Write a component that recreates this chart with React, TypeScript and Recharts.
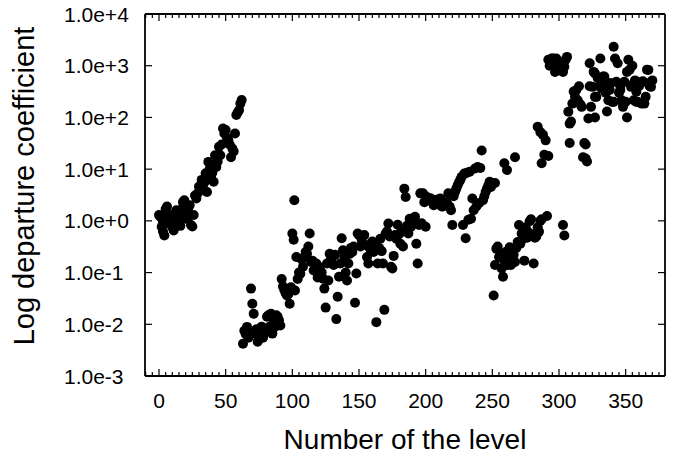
import React from 'react';
import { ScatterChart, Scatter, XAxis, YAxis } from 'recharts';

// [level number, departure coefficient], one cluster at a time
const firstLevels: [number, number][] = [
    [0, 1.3], [1, 1.2], [2, 0.77], [3, 0.62], [3, 0.95], [4, 0.52], [5, 1.7], [6, 1.9], [7, 0.9], [7, 1.3],
    [8, 1.0], [9, 1.1], [10, 0.75], [11, 0.65], [12, 0.9], [12, 1.4], [13, 1.6], [14, 1.2], [15, 1.5],
    [16, 1.15], [16, 0.8], [17, 1.7], [18, 2.3], [19, 2.5], [20, 1.4], [20, 1.1], [21, 1.3], [22, 1.8],
    [22, 1.2], [23, 2.0], [24, 0.83], [25, 0.78], [26, 1.3], [27, 3.1], [28, 2.7], [29, 3.4], [30, 4.6],
    [31, 3.9], [32, 6.2], [33, 4.9], [34, 5.5], [35, 8.3], [36, 3.6], [37, 13.8], [38, 10], [39, 7.1],
    [40, 8.5], [41, 5.7], [42, 18.6], [43, 11], [44, 14], [45, 27], [46, 18.6], [47, 30], [48, 61],
    [49, 49], [50, 57], [51, 40], [52, 36], [53, 30], [54, 17], [55, 25], [56, 22], [57, 49], [58, 111],
    [59, 125], [60, 138], [61, 185], [62, 218],
];

const lowCluster: [number, number][] = [
    [63, 0.0042], [64, 0.0075], [65, 0.0065], [66, 0.0089], [67, 0.0055], [68, 0.0066], [69, 0.049],
    [70, 0.025], [71, 0.016], [72, 0.0066], [73, 0.008], [74, 0.0046], [75, 0.007], [76, 0.0076],
    [77, 0.009], [78, 0.0055], [79, 0.0066], [80, 0.008], [81, 0.014], [82, 0.015], [83, 0.009],
    [84, 0.016], [85, 0.0066], [86, 0.012], [87, 0.009], [88, 0.015], [89, 0.014], [90, 0.012],
    [91, 0.0095], [92, 0.075], [93, 0.054], [94, 0.046], [95, 0.04], [96, 0.036], [97, 0.038],
    [98, 0.025], [99, 0.052], [100, 0.57], [101, 0.43], [101.5, 2.5], [102, 0.045],
];

const middleBand: [number, number][] = [
    [103, 0.2], [104, 0.075], [105, 0.1], [106, 0.095], [107, 0.18], [108, 0.13], [109, 0.2], [110, 0.25],
    [111, 0.23], [112, 0.32], [113, 0.57], [114, 0.16], [115, 0.17], [116, 0.11], [117, 0.12], [118, 0.15],
    [119, 0.08], [120, 0.13], [121, 0.11], [122, 0.1], [123, 0.076], [124, 0.049], [125, 0.021], [126, 0.15],
    [127, 0.07], [128, 0.23], [129, 0.18], [130, 0.2], [131, 0.14], [132, 0.22], [133, 0.0126], [134, 0.034],
    [135, 0.083], [136, 0.15], [137, 0.46], [138, 0.27], [139, 0.2], [140, 0.1], [141, 0.07], [142, 0.15],
    [143, 0.23], [144, 0.3], [145, 0.25], [146, 0.32], [147, 0.026], [148, 0.096], [149, 0.57], [150, 0.53],
    [151, 0.32], [152, 0.43], [153, 0.35], [154, 0.53], [155, 0.34], [156, 0.2], [157, 0.15], [158, 0.3],
    [159, 0.28], [160, 0.4], [161, 0.25], [162, 0.36], [163, 0.011], [164, 0.15], [165, 0.3], [166, 0.45],
    [167, 0.26], [168, 0.15], [169, 0.019], [170, 0.57], [171, 0.62], [172, 0.89], [173, 0.5], [174, 0.13],
    [175, 0.12], [176, 0.21], [177, 0.53], [178, 0.45], [179, 0.84], [180, 0.55], [181, 0.36], [182, 0.62],
    [183, 0.32], [184, 4.2], [185, 2.9], [186, 0.8], [187, 0.57], [188, 1.1], [189, 0.77], [190, 1.05],
];

const upperBand: [number, number][] = [
    [191, 1.0], [192, 1.2], [193, 0.36], [194, 0.15], [195, 0.83], [196, 3.4], [197, 0.9], [198, 3.4],
    [199, 2.3], [200, 0.77], [201, 2.9], [202, 2.5], [203, 2.7], [204, 2.7], [205, 2.4], [206, 2.0],
    [207, 2.2], [208, 2.3], [209, 2.6], [210, 2.4], [211, 2.7], [212, 1.9], [213, 1.9], [214, 2.1],
    [215, 2.3], [216, 2.2], [217, 3.4], [218, 1.9], [219, 1.6], [220, 0.83], [221, 3.0], [222, 3.6],
    [223, 4.2], [224, 4.9], [225, 5.6], [226, 6.2], [227, 7.1], [228, 0.83], [229, 8.2], [230, 0.46],
    [231, 8.5], [232, 1.05], [233, 8.9], [234, 1.1], [235, 2.7], [236, 1.6], [237, 10.3], [238, 1.9],
    [239, 11], [240, 2.2], [241, 10.5], [242, 23], [243, 2.5], [244, 3.0], [245, 3.6], [246, 4.2],
    [247, 4.9], [248, 5.7], [249, 4.5], [250, 5.3], [252, 5.4], [259, 13], [261, 9.6], [267, 17],
];

const lowerRight: [number, number][] = [
    [251, 0.036], [252, 0.14], [253, 0.29], [254, 0.32], [255, 0.2], [256, 0.23], [257, 0.12], [258, 0.083],
    [259, 0.17], [260, 0.25], [261, 0.14], [262, 0.2], [263, 0.31], [264, 0.14], [265, 0.16], [266, 0.22],
    [267, 0.16], [268, 0.3], [269, 0.39], [270, 0.83], [271, 0.36], [272, 0.57], [273, 0.45], [274, 0.17],
    [275, 0.75], [276, 0.47], [277, 0.6], [278, 0.98], [279, 1.07], [280, 0.55], [281, 0.15], [282, 0.47],
    [283, 0.5], [284, 0.75], [285, 0.62], [286, 1.0], [287, 1.07], [291, 1.24], [303, 0.83], [304, 0.52],
];

const middleRight: [number, number][] = [
    [284, 66], [286, 52], [288, 46], [290, 36], [287, 13], [289, 19], [292, 18],
];

const topCluster: [number, number][] = [
    [292, 1300], [293, 1000], [294, 1120], [295, 1400], [296, 1100], [297, 760], [298, 1380], [299, 1200],
    [300, 1000], [301, 1150], [302, 900], [303, 760], [304, 950], [305, 1300], [306, 1480],
];

const lastLevels: [number, number][] = [
    [307, 129], [308, 32], [308, 76], [309, 83], [310, 185], [311, 316], [312, 250], [313, 340], [314, 215],
    [315, 400], [316, 180], [317, 160], [318, 17], [319, 32], [320, 30], [320, 16], [321, 14], [322, 95],
    [323, 1120], [323, 400], [324, 160], [325, 390], [326, 760], [327, 100], [327, 250], [327, 708],
    [328, 250], [329, 580], [330, 400], [331, 1380], [332, 360], [333, 520], [333, 617], [334, 620],
    [335, 300], [336, 130], [337, 215], [338, 340], [338, 457], [339, 460], [340, 200], [341, 2330],
    [341, 200], [342, 1380], [343, 490], [344, 1120], [345, 300], [346, 340], [346, 400], [347, 215],
    [348, 160], [348, 186], [349, 490], [350, 200], [351, 100], [351, 760], [352, 1300], [353, 840],
    [354, 390], [355, 1000], [356, 215], [356, 457], [357, 520], [358, 315], [358, 200], [359, 200],
    [360, 400], [361, 460], [362, 185], [362, 490], [363, 500], [364, 185], [365, 250], [366, 840],
    [367, 460], [367, 830], [368, 400], [369, 390], [370, 520],
];

// the last cluster is tied to the top/right axes so that the full frame gets drawn
const clusters = [firstLevels, lowCluster, middleBand, upperBand, lowerRight, middleRight, topCluster];

const levelLabels = [0, 50, 100, 150, 200, 250, 300, 350];
const levelTicks = Array.from({ length: 78 }, (_, i) => -10 + i * 5);
const decadeTicks = [1e-3, 1e-2, 1e-1, 1e0, 1e1, 1e2, 1e3, 1e4];
const LEVEL_DOMAIN: [number, number] = [-10.5, 379.5];
const VALUE_DOMAIN: [number, number] = [1e-3, 1e4];

const FONT = '"Liberation Sans", Arial, Helvetica, sans-serif';
const FRAME = { stroke: '#000', strokeWidth: 1.8 };

const formatDecade = (v: number) => {
    const exp = Math.round(Math.log10(v));
    return `1.0e${exp >= 0 ? '+' : ''}${exp}`;
};

const BottomTick = ({ x, y, payload }: any) => {
    const major = levelLabels.includes(payload.value);
    return (
        <g>
            <line x1={x} y1={y} x2={x} y2={y - (major ? 7 : 4)} stroke="#000" strokeWidth={1.2} />
            {major && (
                <text x={x} y={y + 32} textAnchor="middle" fontSize={21} fontFamily={FONT} fill="#000">
                    {payload.value}
                </text>
            )}
        </g>
    );
};

const TopTick = ({ x, y, payload }: any) => {
    const major = levelLabels.includes(payload.value);
    return <line x1={x} y1={y} x2={x} y2={y + (major ? 7 : 4)} stroke="#000" strokeWidth={1.2} />;
};

const LeftTick = ({ x, y, payload }: any) => (
    <g>
        <line x1={x} y1={y} x2={x + 7} y2={y} stroke="#000" strokeWidth={1.2} />
        <text x={64} y={y + 7.5} textAnchor="start" fontSize={21} fontFamily={FONT} fill="#000">
            {formatDecade(payload.value)}
        </text>
    </g>
);

const RightTick = ({ x, y }: any) => (
    <line x1={x} y1={y} x2={x - 7} y2={y} stroke="#000" strokeWidth={1.2} />
);

const XTitle = () => (
    <text x={405} y={449} textAnchor="middle" fontSize={28} fontFamily={FONT} fill="#000">
        Number of the level
    </text>
);

const YTitle = () => (
    <text
        x={0}
        y={0}
        transform="translate(34, 186) rotate(-90)"
        textAnchor="middle"
        fontSize={29}
        fontFamily={FONT}
        fill="#000"
    >
        Log departure coefficient
    </text>
);

const Dot = (props: any) => <circle cx={props.cx} cy={props.cy} r={5} fill="#000" />;

const App: React.FC = () => {
    return (
        <div style={{ position: 'absolute', left: 0, top: 0, width: 678, height: 459, background: '#fff' }}>
            <ScatterChart width={678} height={459} margin={{ top: 13, right: 12, bottom: 0, left: 0 }}>
                <XAxis
                    xAxisId="bottom"
                    type="number"
                    dataKey="level"
                    domain={LEVEL_DOMAIN}
                    allowDataOverflow
                    ticks={levelTicks}
                    interval={0}
                    height={83}
                    tickSize={0}
                    tickMargin={0}
                    tickLine={false}
                    tick={<BottomTick />}
                    axisLine={FRAME}
                    label={<XTitle />}
                />
                <XAxis
                    xAxisId="top"
                    orientation="top"
                    type="number"
                    dataKey="level"
                    domain={LEVEL_DOMAIN}
                    allowDataOverflow
                    ticks={levelTicks}
                    interval={0}
                    height={1}
                    tickSize={0}
                    tickMargin={0}
                    tickLine={false}
                    tick={<TopTick />}
                    axisLine={FRAME}
                />
                <YAxis
                    yAxisId="left"
                    type="number"
                    dataKey="value"
                    scale="log"
                    domain={VALUE_DOMAIN}
                    allowDataOverflow
                    ticks={decadeTicks}
                    interval={0}
                    width={145}
                    tickSize={0}
                    tickMargin={0}
                    tickLine={false}
                    tick={<LeftTick />}
                    axisLine={FRAME}
                    label={<YTitle />}
                />
                <YAxis
                    yAxisId="right"
                    orientation="right"
                    type="number"
                    dataKey="value"
                    scale="log"
                    domain={VALUE_DOMAIN}
                    allowDataOverflow
                    ticks={decadeTicks}
                    interval={0}
                    width={1}
                    tickSize={0}
                    tickMargin={0}
                    tickLine={false}
                    tick={<RightTick />}
                    axisLine={FRAME}
                />
                {clusters.map((cluster, i) => (
                    <Scatter
                        key={`cluster-${i}`}
                        xAxisId="bottom"
                        yAxisId="left"
                        data={cluster.map(([level, value]) => ({ level, value }))}
                        shape={<Dot />}
                        isAnimationActive={false}
                    />
                ))}
                <Scatter
                    xAxisId="top"
                    yAxisId="right"
                    data={lastLevels.map(([level, value]) => ({ level, value }))}
                    shape={<Dot />}
                    isAnimationActive={false}
                />
            </ScatterChart>
        </div>
    );
};

export default App;
